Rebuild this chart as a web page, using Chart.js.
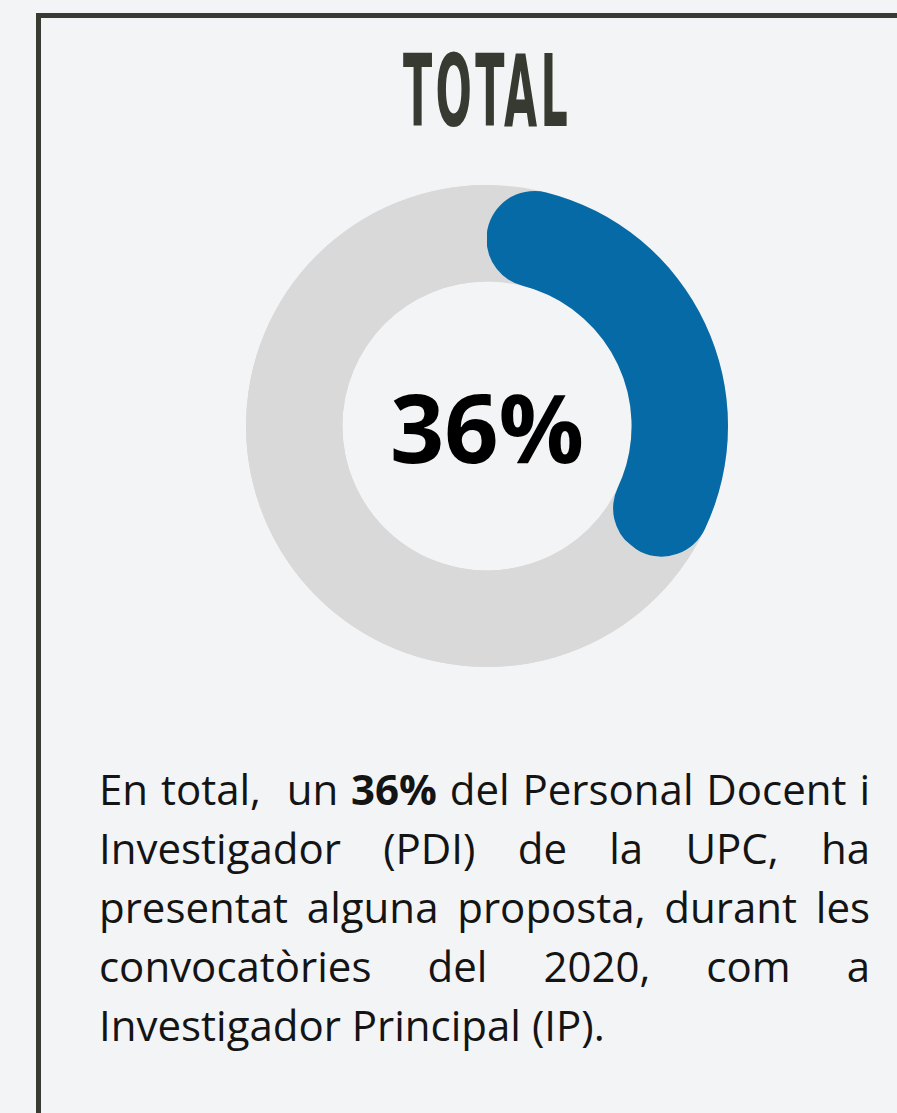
<!DOCTYPE html>
<html>
<head>
<meta charset="utf-8">
<script src="https://cdn.jsdelivr.net/npm/chart.js@4/dist/chart.umd.min.js"></script>
<style>
	html, body {
		margin: 0;
		padding: 0;
		background: #f3f4f6;
		width: 897px;
		height: 1113px;
		overflow: hidden;
	}
	.frame {
		position: absolute;
		left: 36px;
		top: 13px;
		width: 1000px;
		height: 1200px;
		border: 5px solid #383b32;
		box-sizing: border-box;
	}
	.title {
		position: absolute;
		left: 0;
		width: 974px;
		top: 37px;
		text-align: center;
		font-family: "Liberation Sans Narrow", "DejaVu Sans Condensed", sans-serif;
		font-weight: bold;
		font-size: 99px;
		line-height: 110px;
		color: #363a30;
		transform: scaleX(0.48);
		transform-origin: 487px 0;
		letter-spacing: 7px;
	}
	#chartCanvas {
		position: absolute;
		left: 246px;
		top: 185px;
	}
	.text {
		position: absolute;
		left: 99px;
		width: 771px;
		top: 759px;
		font-family: "Open Sans", sans-serif;
		font-size: 42px;
		line-height: 59px;
		color: #141414;
	}
	.text div {
		text-align: justify;
		text-align-last: justify;
		white-space: nowrap;
	}
	.text div.last {
		text-align-last: left;
	}
</style>
</head>
<body>
<div class="frame"></div>
<div class="title">TOTAL</div>
<canvas id="chartCanvas" width="482" height="482"></canvas>
<div class="text">
	<div>En total,&nbsp; un <b>36%</b> del Personal Docent i</div>
	<div>Investigador (PDI) de la UPC, ha</div>
	<div>presentat alguna proposta, durant les</div>
	<div>convocatòries del 2020, com a</div>
	<div class="last">Investigador Principal (IP).</div>
</div>
<script>
const categories = ["Amb proposta com a IP", "Resta del PDI"];
const shareValues = [36, 64];
const centerLabel = "36%";

// gray full ring behind the slices, so the rounded blue ends sit on gray
const ringBackground = {
	id: "ringBackground",
	beforeDatasetsDraw: function (chart) {
		const arc = chart.getDatasetMeta(0).data[0];
		if (!arc) {
			return;
		}
		const ctx = chart.ctx;
		ctx.save();
		ctx.beginPath();
		ctx.arc(arc.x, arc.y, arc.outerRadius, 0, Math.PI * 2);
		ctx.arc(arc.x, arc.y, arc.innerRadius, 0, Math.PI * 2, true);
		ctx.fillStyle = "#d9d9d9";
		ctx.fill();
		ctx.restore();
	}
};

const centerText = {
	id: "centerText",
	afterDraw: function (chart) {
		const arc = chart.getDatasetMeta(0).data[0];
		const ctx = chart.ctx;
		ctx.save();
		ctx.font = "bold 95px 'Open Sans'";
		ctx.fillStyle = "#000000";
		ctx.textAlign = "center";
		ctx.textBaseline = "middle";
		ctx.fillText(centerLabel, arc.x, arc.y + 10);
		ctx.restore();
	}
};

new Chart(document.getElementById("chartCanvas"), {
	type: "doughnut",
	data: {
		labels: categories,
		datasets: [
			{
				data: shareValues,
				backgroundColor: ["#066aa7", "#d9d9d9"],
				borderWidth: 0,
				borderRadius: [48, 0]
			}
		]
	},
	options: {
		responsive: false,
		animation: false,
		cutout: "60%",
		events: [],
		layout: {
			padding: 0
		},
		plugins: {
			legend: {
				display: false
			},
			tooltip: {
				enabled: false
			}
		}
	},
	plugins: [ringBackground, centerText]
});
</script>
</body>
</html>
